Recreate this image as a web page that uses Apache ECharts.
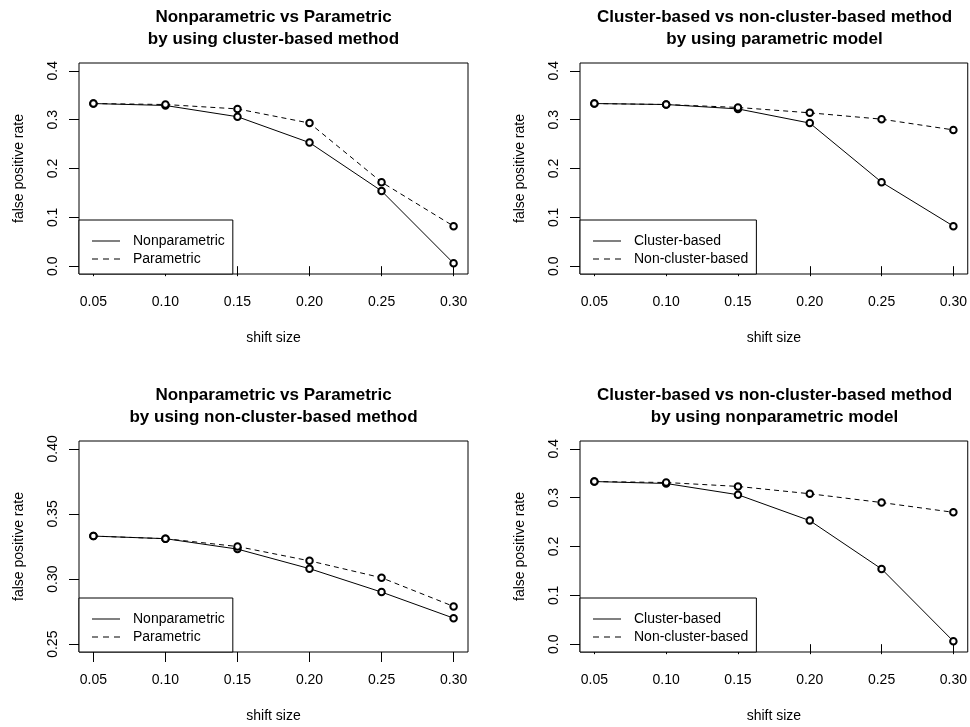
<!DOCTYPE html>
<html>
<head>
<meta charset="utf-8">
<script src="https://cdn.jsdelivr.net/npm/echarts@6/dist/echarts.min.js"></script>
<style>html,body{margin:0;padding:0;background:#fff}#c{width:970px;height:727px}</style>
</head>
<body>
<div id="c"></div>
<script>
// ---- data ----
const shiftSizes = [0.05, 0.10, 0.15, 0.20, 0.25, 0.30];
const xTicks = [0.05, 0.10, 0.15, 0.20, 0.25, 0.30];
const yTicksWide = [0.0, 0.1, 0.2, 0.3, 0.4];
const yTicksNarrow = [0.25, 0.30, 0.35, 0.40];
// cluster-based method
const clusterNonparametric = [0.333, 0.329, 0.306, 0.253, 0.154, 0.006];
const clusterParametric    = [0.333, 0.331, 0.322, 0.293, 0.172, 0.082];
// non-cluster-based method
const nonClusterNonparametric = [0.333, 0.331, 0.323, 0.308, 0.290, 0.270];
const nonClusterParametric    = [0.333, 0.331, 0.325, 0.314, 0.301, 0.279];

const titles = [
  'Nonparametric vs Parametric\nby using cluster-based method',
  'Cluster-based vs non-cluster-based method\nby using parametric model',
  'Nonparametric vs Parametric\nby using non-cluster-based method',
  'Cluster-based vs non-cluster-based method\nby using nonparametric model'
];
const panels = [
  {solidName: 'Nonparametric', solid: clusterNonparametric, dashName: 'Parametric', dash: clusterParametric, yTicks: yTicksWide, ymin: -0.016, ymax: 0.416, dec: 1},
  {solidName: 'Cluster-based', solid: clusterParametric, dashName: 'Non-cluster-based', dash: nonClusterParametric, yTicks: yTicksWide, ymin: -0.016, ymax: 0.416, dec: 1},
  {solidName: 'Nonparametric', solid: nonClusterNonparametric, dashName: 'Parametric', dash: nonClusterParametric, yTicks: yTicksNarrow, ymin: 0.244, ymax: 0.406, dec: 2},
  {solidName: 'Cluster-based', solid: clusterNonparametric, dashName: 'Non-cluster-based', dash: nonClusterNonparametric, yTicks: yTicksWide, ymin: -0.016, ymax: 0.416, dec: 1}
];

// ---- layout ----
const FONT = '"Liberation Sans", Arial, Helvetica, sans-serif';
const boxes = [
  {left: 79, top: 63, width: 389, height: 211},
  {left: 580, top: 63, width: 389, height: 211},
  {left: 79, top: 441, width: 389, height: 211},
  {left: 580, top: 441, width: 389, height: 211}
];
const titleTops = [6, 6, 384, 384];
const legendTops = [220, 220, 598, 598];

const solidIcon = 'path://M0,0h28v1h-28z';
const dashIcon = 'path://M0,0h6v1h-6zM11,0h6v1h-6zM22,0h6v1h-6z';

const option = {
  animation: false,
  backgroundColor: '#fff',
  title: [], grid: [], xAxis: [], yAxis: [], series: [], legend: []
};

panels.forEach((p, i) => {
  const b = boxes[i];
  option.title.push({
    text: titles[i], left: b.left + b.width / 2, top: titleTops[i], textAlign: 'center', padding: 0,
    textStyle: {fontFamily: FONT, fontSize: 17, fontWeight: 'bold', color: '#000', lineHeight: 22}
  });
  option.grid.push({left: b.left, top: b.top, width: b.width, height: b.height, show: true,
    borderColor: '#000', borderWidth: 1, backgroundColor: 'transparent', containLabel: false});
  option.xAxis.push({
    type: 'value', gridIndex: i, min: 0.04, max: 0.31,
    name: 'shift size', nameLocation: 'middle', nameGap: 57,
    nameTextStyle: {fontFamily: FONT, fontSize: 14, color: '#000'},
    axisLine: {show: false}, splitLine: {show: false},
    axisTick: {show: true, inside: false, length: 10, customValues: xTicks, lineStyle: {color: '#000'}},
    axisLabel: {show: true, margin: 21, customValues: xTicks, formatter: v => v.toFixed(2),
      fontFamily: FONT, fontSize: 14, color: '#000'}
  });
  option.yAxis.push({
    type: 'value', gridIndex: i, min: p.ymin, max: p.ymax,
    name: 'false positive rate', nameLocation: 'middle', nameGap: 53,
    nameTextStyle: {fontFamily: FONT, fontSize: 14, color: '#000'},
    axisLine: {show: false}, splitLine: {show: false},
    axisTick: {show: true, inside: false, length: 10, customValues: p.yTicks, lineStyle: {color: '#000'}},
    axisLabel: {show: true, margin: 19, rotate: 90, customValues: p.yTicks, formatter: v => v.toFixed(p.dec),
      fontFamily: FONT, fontSize: 14, color: '#000'}
  });
  const mk = (name, vals, dashed) => ({
    name: name, type: 'line', xAxisIndex: i, yAxisIndex: i,
    data: shiftSizes.map((x, k) => [x, vals[k]]),
    symbol: 'emptyCircle', symbolSize: 6.5, showSymbol: true,
    lineStyle: {color: '#000', width: 1, type: dashed ? [5, 4] : 'solid'},
    itemStyle: {color: '#000', borderColor: '#000', borderWidth: 0.7},
    emphasis: {disabled: true}
  });
  option.series.push(mk(p.solidName, p.solid, false));
  option.series.push(mk(p.dashName, p.dash, true));
  option.legend.push({
    left: b.left, top: legendTops[i], orient: 'vertical',
    padding: [12, 8, 6, 13], itemGap: 0, itemWidth: 28, itemHeight: 1,
    borderColor: '#000', borderWidth: 1, borderRadius: 0, backgroundColor: '#fff',
    selectedMode: false,
    data: [{name: p.solidName, icon: solidIcon}, {name: p.dashName, icon: dashIcon}],
    itemStyle: {color: '#000', borderWidth: 0, borderColor: 'transparent'},
    textStyle: {fontFamily: FONT, fontSize: 14, color: '#000', lineHeight: 18, padding: [0, 0, 0, 8]}
  });
});

const chart = echarts.init(document.getElementById('c'), null, {renderer: 'canvas'});
chart.setOption(option);
</script>
</body>
</html>
